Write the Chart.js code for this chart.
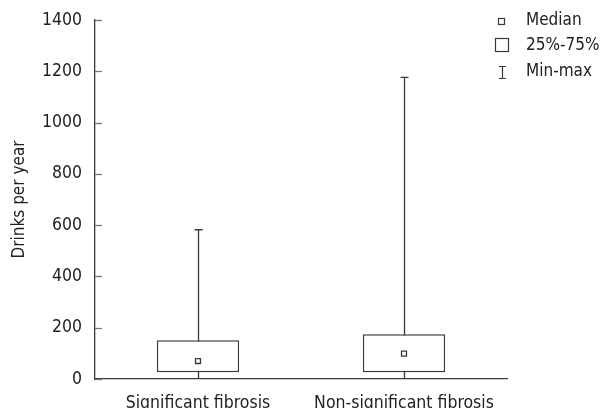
<!DOCTYPE html>
<html>
<head>
<meta charset="utf-8">
<script src="https://cdn.jsdelivr.net/npm/chart.js@4"></script>
<style>
  html, body { margin: 0; padding: 0; background: #fff; }
  #wrap { width: 611px; height: 408px; position: relative; }
</style>
</head>
<body>
<div id="wrap"><canvas id="chart"></canvas></div>
<script>
'use strict';

// values
const categories = ['Significant fibrosis', 'Non-significant fibrosis'];
const minValues = [0, 0];
const q1Values = [26, 26];
const medianValues = [70, 99];
const q3Values = [151, 175];
const maxValues = [582, 1176];
const legendLabels = ['Median', '25%-75%', 'Min-max'];

const FONT = 'DejaVu Sans Condensed';
const INK = '#3a3a3a';

// whiskers (min-max) and y tick marks drawn with the chart's own scales
const boxPlugin = {
  id: 'boxExtras',
  beforeDatasetsDraw(chart) {
    const ctx = chart.ctx;
    const x = chart.scales.x;
    const y = chart.scales.y;
    ctx.save();
    ctx.strokeStyle = INK;
    ctx.lineWidth = 1.3;
    categories.forEach((c, i) => {
      const px = Math.round(x.getPixelForValue(i)) + 0.5;
      const top = y.getPixelForValue(maxValues[i]);
      const bottom = y.getPixelForValue(minValues[i]);
      ctx.beginPath();
      ctx.moveTo(px, top);
      ctx.lineTo(px, bottom);
      ctx.moveTo(px - 4, top);
      ctx.lineTo(px + 4, top);
      ctx.stroke();
    });
    // inward y ticks
    ctx.strokeStyle = '#777';
    ctx.lineWidth = 1.3;
    y.ticks.forEach(t => {
      const py = Math.round(y.getPixelForValue(t.value)) + 0.5;
      ctx.beginPath();
      ctx.moveTo(y.right, py);
      ctx.lineTo(y.right + 7, py);
      ctx.stroke();
    });
    ctx.restore();
  },
  afterDraw(chart) {
    const ctx = chart.ctx;
    ctx.save();
    ctx.font = '17px "' + FONT + '"';
    ctx.fillStyle = '#222';
    ctx.textBaseline = 'middle';
    ctx.textAlign = 'left';
    const rows = [21, 46, 72];
    ctx.strokeStyle = INK;
    ctx.lineWidth = 1.2;
    // median marker
    ctx.strokeRect(498.5, 18.5, 6, 6);
    // box marker
    ctx.strokeRect(495.5, 38.5, 13, 13);
    // min-max marker
    ctx.beginPath();
    ctx.moveTo(499, 66.5); ctx.lineTo(506, 66.5);
    ctx.moveTo(502.5, 66.5); ctx.lineTo(502.5, 78.5);
    ctx.moveTo(499, 78.5); ctx.lineTo(506, 78.5);
    ctx.stroke();
    legendLabels.forEach((l, i) => ctx.fillText(l, 526, rows[i]));
    ctx.restore();
  }
};

new Chart(document.getElementById('chart'), {
  type: 'bar',
  data: {
    labels: categories,
    datasets: [
      {
        label: '25%-75%',
        data: q1Values.map((q, i) => [q, q3Values[i]]),
        backgroundColor: '#ffffff',
        borderColor: INK,
        borderWidth: 1.5,
        borderSkipped: false,
        barPercentage: 0.4,
        categoryPercentage: 1,
        order: 2,
      },
      {
        type: 'line',
        label: 'Median',
        data: medianValues,
        showLine: false,
        pointStyle: 'rect',
        pointRadius: 3.5,
        pointBackgroundColor: '#ffffff',
        pointBorderColor: INK,
        pointBorderWidth: 1.3,
        order: 1,
      },
    ],
  },
  options: {
    responsive: true,
    maintainAspectRatio: false,
    animation: false,
    layout: { padding: { top: 20, right: 104, bottom: 0, left: 0 } },
    plugins: {
      legend: { display: false },
      tooltip: { enabled: false },
    },
    scales: {
      x: {
        grid: { display: false, drawTicks: false },
        border: { color: INK, width: 1.3 },
        ticks: { color: '#222', font: { family: FONT, size: 17.5 }, padding: 14 },
        afterFit(scale) {
          scale.height = 29;
          scale.paddingLeft = 0;
          scale.paddingRight = 0;
        },
      },
      y: {
        min: 0,
        max: 1400,
        grid: { display: false, drawTicks: false },
        border: { color: INK, width: 1.3 },
        ticks: {
          stepSize: 200,
          color: '#222',
          font: { family: FONT, size: 17.5 },
          padding: 13,
          callback: v => String(v),
        },
        title: {
          display: true,
          text: 'Drinks per year',
          color: '#222',
          font: { family: FONT, size: 17 },
          padding: { top: 9, bottom: 0 },
        },
        afterFit(scale) {
          scale.width = 95;
          scale.paddingTop = 0;
          scale.paddingBottom = 0;
        },
      },
    },
  },
  plugins: [boxPlugin],
});
</script>
</body>
</html>
